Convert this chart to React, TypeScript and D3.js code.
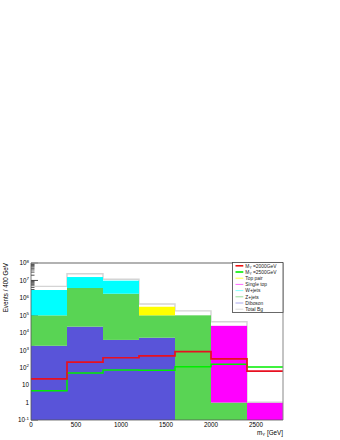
import React from 'react';
import * as d3 from 'd3';

// bin edges in GeV (7 bins of 400 GeV)
const binEdges = [0, 400, 800, 1200, 1600, 2000, 2400, 2800];

// background processes (events per bin), stacked bottom to top
const diboson = [1800, 22400, 3900, 5200, 0, 0, 0];
const zJets = [98000, 3670000, 1736000, 95000, 100000, 1.0, 0];
const wJets = [2730000, 12000000, 7960000, 0, 0, 0, 0];
const topPair = [0, 0, 0, 210000, 0, 0, 0];
const singleTop = [0, 0, 0, 0, 0, 25000, 0.95];
const totalBg = [4.6e6, 2.44e7, 1.16e7, 4.5e5, 1.8e5, 4.3e4, 1.05];

// signal
const signal2000 = [23, 210, 370, 470, 830, 315, 64];
const signal2500 = [4.8, 49, 74, 72, 114, 156, 110];

const yExponents = [-1, 0, 1, 2, 3, 4, 5, 6, 7, 8];
const xTicks = [0, 500, 1000, 1500, 2000, 2500];

const stackKeys = ['diboson', 'zJets', 'wJets', 'topPair', 'singleTop'];
const fillColors: Record<string, string> = {
  diboson: '#5954d9',
  zJets: '#59d454',
  wJets: '#00ffff',
  topPair: '#ffff00',
  singleTop: '#ff00ff',
};

const legendItems = [
  { label: 'M', sub: 'Y', rest: ' =2000GeV', color: '#ee1111', w: 1.6 },
  { label: 'M', sub: 'Y', rest: ' =2500GeV', color: '#00ee00', w: 1.6 },
  { label: 'Top pair', color: '#ffff44', w: 1 },
  { label: 'Single top', color: '#ff66ff', w: 1 },
  { label: 'W+jets', color: '#88ffff', w: 1 },
  { label: 'Z+jets', color: '#99dd99', w: 1 },
  { label: 'Diboson', color: '#aaaaee', w: 1 },
  { label: 'Total Bg', color: '#dddddd', w: 1 },
];

const font = "'Liberation Sans', Arial, Helvetica, sans-serif";

const left = 31;
const right = 283;
const top = 263;
const bottom = 420;

export default function App() {
  const x = d3.scaleLinear().domain([0, 2800]).range([left, right]);
  const y = d3.scaleLog().domain([0.1, 1e8]).range([bottom, top]).clamp(true);
  const yv = (v: number) => y(Math.max(v, 0.1));

  const rows = binEdges.slice(0, -1).map((e, i) => ({
    x0: e,
    x1: binEdges[i + 1],
    diboson: diboson[i],
    zJets: zJets[i],
    wJets: wJets[i],
    topPair: topPair[i],
    singleTop: singleTop[i],
  }));
  const series = d3.stack<any>().keys(stackKeys)(rows);

  const step = d3
    .line<[number, number]>()
    .x((d) => x(d[0]))
    .y((d) => yv(d[1]))
    .curve(d3.curveStepAfter);
  const stepPts = (vals: number[]): [number, number][] => [
    ...vals.map((v, i) => [binEdges[i], v] as [number, number]),
    [binEdges[binEdges.length - 1], vals[vals.length - 1]],
  ];

  const minorTicks: number[] = [];
  for (let k = -1; k < 8; k++) {
    for (let m = 2; m <= 9; m++) minorTicks.push(m * Math.pow(10, k));
  }

  const legX = 232.5;
  const legY = 262.5;
  const legW = 50.5;
  const legH = 50;

  return (
    <svg
      width={340}
      height={440}
      style={{ position: 'absolute', left: 0, top: 0, background: '#fff' }}
      fontFamily={font}
    >
      {/* y axis ticks (underneath the histograms) */}
      <g stroke="#000" strokeWidth={0.7}>
        {yExponents.map((k) => (
          <line key={'M' + k} x1={left} x2={left + 7} y1={y(Math.pow(10, k))} y2={y(Math.pow(10, k))} />
        ))}
        {minorTicks.map((v, i) => (
          <line key={'m' + i} x1={left} x2={left + 3.5} y1={y(v)} y2={y(v)} />
        ))}
      </g>

      {/* total background outline */}
      <path d={step(stepPts(totalBg)) || ''} fill="none" stroke="#d4d4d4" strokeWidth={1.4} />

      {/* stacked backgrounds */}
      {series.map((s) => (
        <g key={s.key} fill={fillColors[s.key]}>
          {s.map((d, i) => {
            const y0 = yv(d[0]);
            const y1 = yv(d[1]);
            if (y0 - y1 <= 0) return null;
            return (
              <rect
                key={i}
                x={x(rows[i].x0)}
                width={x(rows[i].x1) - x(rows[i].x0)}
                y={y1}
                height={y0 - y1}
              />
            );
          })}
        </g>
      ))}

      {/* signals */}
      <path d={step(stepPts(signal2500)) || ''} fill="none" stroke="#00ee00" strokeWidth={1.5} />
      <path d={step(stepPts(signal2000)) || ''} fill="none" stroke="#e81020" strokeWidth={1.7} />

      {/* frame */}
      <g fill="none">
        <line x1={left} x2={right} y1={top} y2={top} stroke="#999" strokeWidth={1.4} />
        <line x1={right} x2={right} y1={top} y2={bottom} stroke="#888" strokeWidth={1} />
        <line x1={left} x2={left} y1={top} y2={bottom} stroke="#555" strokeWidth={0.8} />
        <line x1={left} x2={right} y1={bottom} y2={bottom} stroke="#555" strokeWidth={0.8} />
      </g>

      {/* y tick labels */}
      <g fontSize={6.3} textAnchor="end" fill="#000">
        {yExponents.map((k) => {
          const yy = y(Math.pow(10, k)) + 2.3;
          if (k === 0) return <text key={k} x={29} y={yy}>1</text>;
          if (k === 1) return <text key={k} x={29} y={yy}>10</text>;
          return (
            <text key={k} x={29} y={yy}>
              10<tspan fontSize={4.4} dy={-2.6}>{k}</tspan>
            </text>
          );
        })}
      </g>

      {/* x tick labels */}
      <g fontSize={6.3} textAnchor="middle" fill="#000">
        {xTicks.map((t) => (
          <text key={t} x={x(t)} y={426.8}>{t}</text>
        ))}
      </g>

      {/* axis titles */}
      <text x={283} y={434.6} fontSize={6.3} textAnchor="end">
        m<tspan fontSize={4.4} dy={1.5}>Y</tspan>
        <tspan dy={-1.5}> [GeV]</tspan>
      </text>
      <text transform={`translate(8,${top}) rotate(-90)`} fontSize={6.3} textAnchor="end">
        Events / 400 GeV
      </text>

      {/* legend */}
      <rect x={legX} y={legY} width={legW} height={legH} fill="#fff" stroke="#444" strokeWidth={0.8} />
      {legendItems.map((it, i) => {
        const ry = 265.8 + i * 6.2;
        return (
          <g key={i}>
            <line x1={235.5} x2={243.3} y1={ry} y2={ry} stroke={it.color} strokeWidth={it.w} />
            <text x={245.3} y={ry + 1.7} fontSize={4.9} fill="#222">
              {it.label}
              {it.sub ? <tspan fontSize={3.4} dy={1}>{it.sub}</tspan> : null}
              {it.rest ? <tspan dy={-1}>{it.rest}</tspan> : null}
            </text>
          </g>
        );
      })}
    </svg>
  );
}
